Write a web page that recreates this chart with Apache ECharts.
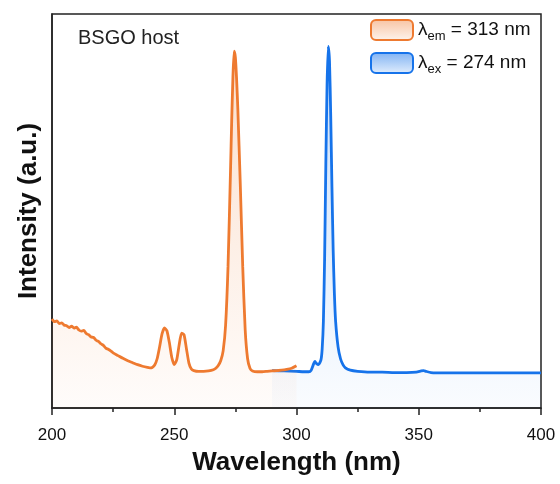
<!DOCTYPE html>
<html><head><meta charset="utf-8">
<script src="https://cdn.jsdelivr.net/npm/echarts@6/dist/echarts.min.js"></script>
<style>html,body{margin:0;padding:0;background:#fff}#c{width:560px;height:484px}</style>
</head><body><div id="c"></div>
<script>
// Excitation spectrum (monitored at 313 nm) - orange
const excWavelength = [200,201,202,203,204,205,206,207,208,209,210,211,212,213,214,215,216,217,218,219,220,221,222,223,224,225,227,229,231,233,235,237,239,240,241,242,243,244,245,246,247,248,249,250,251,252,253,254,255,256,257,258,260,262,264,266,267,268,269,270,271,272,273,273.5,274,274.5,275,275.5,276,277,278,279,280,281,282,284,286,288,290,292,294,296,298,300];
const excIntensity  = [22.6,21.9,22.1,21.4,21.6,21.0,20.9,20.4,20.8,20.3,20.5,19.8,19.5,19.7,18.9,18.6,18.0,17.9,17.2,16.9,16.3,15.9,15.2,14.9,14.5,14.0,13.3,12.6,12.0,11.5,11.0,10.6,10.3,10.2,10.3,10.9,12.5,15.5,18.8,20.3,19.6,16.6,12.8,11.0,12.2,16.0,19.0,18.6,15.0,11.4,9.9,9.5,9.3,9.3,9.4,9.7,10.1,10.8,12.0,14.5,21.0,36.0,60.0,73.0,84.0,90.6,89.0,83.5,76.0,57.0,36.0,20.0,12.5,10.0,9.4,9.2,9.2,9.3,9.4,9.5,9.6,9.8,10.1,10.7];
// Emission spectrum (excited at 274 nm) - blue
const emiWavelength = [290,295,300,303,305,306,307,307.5,308,309,310,310.5,311,311.5,312,312.5,313,313.5,314,314.5,315,315.5,316,317,318,319,320,322,325,330,335,340,345,349,351,352,353,355,360,370,380,390,400];
const emiIntensity  = [9.5,9.4,9.3,9.2,9.2,9.6,11.2,11.8,11.4,11.0,12.2,15.0,22.0,38.0,62.0,82.0,91.8,88.0,74.0,56.0,40.0,29.0,22.0,15.5,12.5,11.0,10.2,9.6,9.3,9.1,9.1,9.0,9.0,9.1,9.4,9.5,9.3,9.0,8.9,8.9,8.9,8.9,8.9];
const seriesNames = ['em', 'ex'];
const legendLabels = {em: '{l|λ}{s|em}{l| = 313 nm}', ex: '{l|λ}{s|ex}{l| = 274 nm}'};
const xTicks = [200, 250, 300, 350, 400];
const annotation = 'BSGO host';
const xTitle = 'Wavelength (nm)';
const yTitle = 'Intensity (a.u.)';

const ORANGE = '#EE7A30', BLUE = '#1673EA';
const zip = (a, b) => a.map((v, i) => [v, b[i]]);
const grad = (c1, c2) => new echarts.graphic.LinearGradient(0, 0, 0, 1, [{offset: 0, color: c1}, {offset: 1, color: c2}]);

const chart = echarts.init(document.getElementById('c'), null, {renderer: 'canvas'});
chart.setOption({
  animation: false,
  backgroundColor: '#fff',
  textStyle: {fontFamily: 'Liberation Sans, Arial, sans-serif'},
  grid: {left: 52, right: 19, top: 14, bottom: 76, show: true, borderColor: '#222', borderWidth: 1.5},
  xAxis: {
    type: 'value', min: xTicks[0], max: xTicks[xTicks.length - 1], interval: 50,
    name: xTitle, nameLocation: 'middle', nameGap: 42,
    nameTextStyle: {fontSize: 26, fontWeight: 'bold', color: '#111'},
    axisLine: {lineStyle: {color: '#222', width: 1.5}},
    axisTick: {length: 7, lineStyle: {color: '#222', width: 1.5}},
    minorTick: {show: true, splitNumber: 2, length: 4, lineStyle: {color: '#222', width: 1.5}},
    axisLabel: {fontSize: 17, color: '#111', margin: 19},
    splitLine: {show: false}
  },
  yAxis: {
    type: 'value', min: 0, max: 100,
    name: yTitle, nameLocation: 'middle', nameGap: 10, nameRotate: 90,
    nameTextStyle: {fontSize: 26, fontWeight: 'bold', color: '#111'},
    axisLine: {show: true, lineStyle: {color: '#222', width: 1.5}},
    axisTick: {show: false}, axisLabel: {show: false}, splitLine: {show: false}
  },
  legend: {
    orient: 'vertical', left: 365, top: 14, itemWidth: 42, itemHeight: 20, itemGap: 9,
    data: [
      {name: seriesNames[0], icon: 'roundRect', itemStyle: {color: grad('rgba(238,122,48,0.45)', 'rgba(238,122,48,0.08)'), borderColor: ORANGE, borderWidth: 2}},
      {name: seriesNames[1], icon: 'roundRect', itemStyle: {color: grad('rgba(22,115,234,0.55)', 'rgba(22,115,234,0.12)'), borderColor: BLUE, borderWidth: 2}}
    ],
    formatter: n => legendLabels[n],
    textStyle: {
      padding: [0, 0, 0, 0],
      rich: {
        l: {fontSize: 19, color: '#111', lineHeight: 26},
        s: {fontSize: 13, color: '#111', verticalAlign: 'bottom'}
      }
    }
  },
  graphic: [{type: 'text', left: 78, top: 28, style: {text: annotation, fontSize: 20, fill: '#222', fontFamily: 'Liberation Sans, Arial, sans-serif'}}],
  series: [
    {
      name: seriesNames[1], type: 'line', data: zip(emiWavelength, emiIntensity), showSymbol: false, smooth: 0.2,
      lineStyle: {color: BLUE, width: 2.8}, itemStyle: {color: BLUE},
      areaStyle: {color: grad('rgba(22,115,234,0.32)', 'rgba(22,115,234,0.03)')}, z: 2
    },
    {
      name: seriesNames[0], type: 'line', data: zip(excWavelength, excIntensity), showSymbol: false, smooth: 0.2,
      lineStyle: {color: ORANGE, width: 2.8}, itemStyle: {color: ORANGE},
      areaStyle: {color: grad('rgba(238,122,48,0.34)', 'rgba(238,122,48,0.03)')}, z: 3
    }
  ]
});
</script>
</body></html>
